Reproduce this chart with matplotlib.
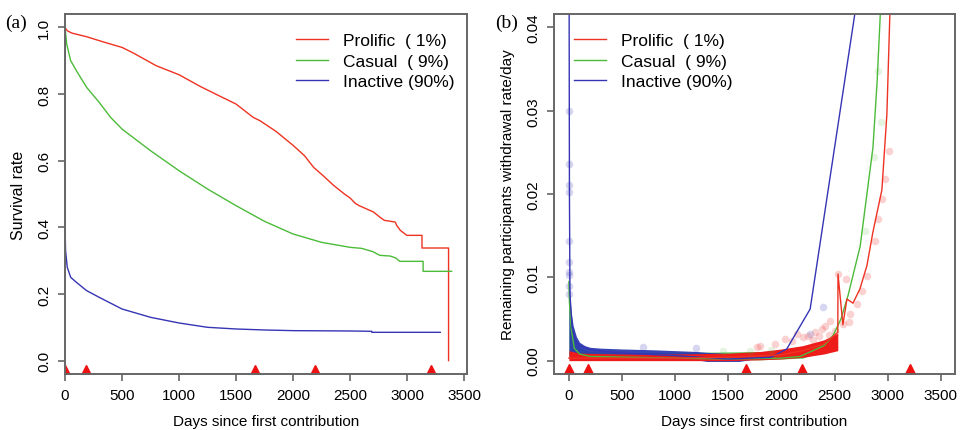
import matplotlib.pyplot as plt
import numpy as np

plt.rcParams['font.family'] = ['Liberation Sans', 'DejaVu Sans']

RED = '#ee3322'
GREEN = '#4cbb3a'
BLUE = '#3535b5'
FRAME = '#666666'

labels = ['Prolific  ( 1%)', 'Casual  ( 9%)', 'Inactive (90%)']
marker_days = [0, 180, 1670, 2190, 3210]

# (a) survival curves
red_days = [0, 20, 60, 190, 350, 500, 600, 800, 1000, 1185, 1350, 1500, 1650, 1710,
            1850, 2000, 2100, 2180, 2270, 2355, 2450, 2500, 2545, 2580, 2646, 2705,
            2763, 2800, 2895, 2910, 2940, 2997, 3130, 3130, 3363, 3363]
red_surv = [1.0, 0.99, 0.983, 0.972, 0.955, 0.94, 0.923, 0.885, 0.858, 0.823, 0.795,
            0.77, 0.73, 0.72, 0.688, 0.646, 0.615, 0.58, 0.553, 0.526, 0.5, 0.488,
            0.472, 0.465, 0.455, 0.446, 0.43, 0.421, 0.416, 0.405, 0.391, 0.376,
            0.376, 0.338, 0.338, 0.0]
green_days = [0, 15, 50, 100, 190, 300, 400, 500, 750, 1000, 1250, 1500, 1750, 2000,
              2250, 2500, 2600, 2700, 2760, 2850, 2900, 2935, 3140, 3140, 3390]
green_surv = [1.0, 0.95, 0.9, 0.87, 0.82, 0.775, 0.73, 0.695, 0.63, 0.57, 0.515,
              0.465, 0.418, 0.38, 0.355, 0.34, 0.337, 0.327, 0.316, 0.314, 0.308,
              0.298, 0.298, 0.268, 0.268]
blue_days = [0, 1, 5, 20, 50, 100, 190, 300, 500, 750, 1000, 1250, 1500, 1750, 2000,
             2500, 2690, 2690, 3290]
blue_surv = [1.0, 0.40, 0.33, 0.28, 0.25, 0.235, 0.21, 0.19, 0.155, 0.13, 0.113,
             0.10, 0.095, 0.092, 0.09, 0.089, 0.088, 0.085, 0.085]

# (b) withdrawal rate lines
red_rate_days = [0, 500, 1000, 1500, 2000, 2200, 2400, 2530, 2532, 2578, 2616, 2673,
                 2738, 2804, 2860, 2945, 2992, 3020, 3040]
red_rate = [0.0003, 0.0003, 0.0003, 0.0004, 0.0007, 0.0012, 0.002, 0.0034, 0.0104,
            0.0043, 0.0074, 0.0069, 0.0086, 0.0114, 0.0154, 0.0205, 0.0296, 0.0416,
            0.05]
green_rate_days = [0, 5, 20, 50, 100, 200, 1000, 1500, 2000, 2175, 2400, 2485, 2560,
                   2626, 2740, 2861, 2900, 2930, 2950]
green_rate = [0.0095, 0.007, 0.004, 0.0015, 0.0008, 0.0005, 0.0003, 0.0002, 0.0003,
              0.0005, 0.0018, 0.003, 0.005, 0.0078, 0.0137, 0.0256, 0.0335, 0.0416,
              0.047]
blue_rate_days = [0, 5, 10, 30, 60, 100, 200, 500, 1000, 1500, 1900, 2050, 2270, 2456,
                  2690, 2750]
blue_rate = [0.06, 0.02, 0.008, 0.004, 0.0025, 0.0018, 0.0013, 0.0009, 0.0006, 0.0002,
             0.0004, 0.0014, 0.0062, 0.0219, 0.0416, 0.0466]

# (b) dense scatter bands (lower / upper envelopes)
green_band_days = [0, 10, 30, 60, 100, 150, 200, 600, 1200, 1800, 2200, 2400, 2500]
green_band_lo = [0.0003, 0.0003, 0.0003, 0.0002, 0.0002, 0.0002, 0.0001, 0.0001,
                 0.0001, 0.0001, 0.0003, 0.0012, 0.0022]
green_band_hi = [0.0098, 0.0065, 0.0035, 0.0022, 0.0016, 0.0013, 0.0011, 0.001,
                 0.001, 0.0011, 0.0012, 0.0022, 0.003]
blue_band_days = [0, 10, 20, 40, 70, 100, 150, 200, 300, 500, 800, 1000, 1200, 1300,
                  1450, 1600, 1700]
blue_band_lo = [0.0006, 0.0005, 0.0004, 0.0004, 0.0003, 0.0003, 0.0003, 0.0003, 0.0003,
                0.0003, 0.0002, 0.0002, 0.0001, -0.0001, -0.0001, -0.0001, 0.0001]
blue_band_hi = [0.011, 0.0075, 0.006, 0.0042, 0.0029, 0.0022, 0.0018, 0.0016, 0.0015,
                0.0014, 0.0013, 0.0012, 0.0011, 0.001, 0.0009, 0.0007, 0.0005]
red_band_days = [0, 100, 500, 1000, 1500, 1800, 2000, 2200, 2400, 2530]
red_band_lo = [0.0, 0.0, 0.0, 0.0, 0.0, 0.0001, 0.0002, 0.0004, 0.0008, 0.0012]
red_band_hi = [0.0012, 0.0009, 0.0008, 0.0008, 0.0009, 0.0011, 0.0014, 0.0018,
               0.0025, 0.0033]

# (b) scattered points outside the bands
blue_pts_days = [0, 0, 0, 0, 0, 0, 0, 0, 2, 3, 2268, 2393, 1200, 700]
blue_pts_rate = [0.030, 0.0236, 0.0211, 0.0202, 0.0144, 0.0119, 0.0107, 0.0103,
                 0.0090, 0.0080, 0.0032, 0.0064, 0.0015, 0.0016]
green_pts_days = [2785, 2873, 2933, 2908, 1450, 1700, 1900]
green_pts_rate = [0.0156, 0.0244, 0.0286, 0.0348, 0.0012, 0.0012, 0.0013]
red_pts_days = [1766, 1797, 1938, 2032, 2142, 2250, 2315, 2378, 2409, 2456, 2580,
                2644, 2707, 2754, 2606, 2531, 2801, 2879, 2910, 2942, 2973, 3011,
                2635, 2100, 2200, 2300, 2350, 2450, 2500]
red_pts_rate = [0.0016, 0.0018, 0.002, 0.0026, 0.0032, 0.0029, 0.0034, 0.0038, 0.0042,
                0.0047, 0.0044, 0.0056, 0.0068, 0.0084, 0.0098, 0.0104, 0.0102, 0.0144,
                0.017, 0.0194, 0.0218, 0.0252, 0.0046, 0.0024, 0.0028, 0.0025, 0.003,
                0.0031, 0.0036]


def style_axes(ax, yticks, yfmt):
    for s in ax.spines.values():
        s.set_color(FRAME)
        s.set_linewidth(1.4)
    ax.set_xticks(range(0, 3501, 500))
    ax.set_yticks(yticks)
    ax.set_yticklabels([yfmt.format(v) for v in yticks])
    ax.tick_params(colors=FRAME, labelcolor='black', labelsize=11, length=5,
                   width=1.2, direction='out', pad=5)
    for lab in ax.get_yticklabels():
        lab.set_rotation(90)
        lab.set_va('center')
    ax.set_xlabel('Days since first contribution', fontsize=11, labelpad=9)


def add_legend(ax, handles, x):
    ax.legend(handles, labels, loc='upper left', bbox_to_anchor=(x, 0.99),
              frameon=False, fontsize=12.5, handlelength=1.85, handletextpad=0.9,
              labelspacing=0.3)


fig = plt.figure(figsize=(9.6, 4.31), dpi=100)

# panel (a)
ax1 = fig.add_axes((0.0677, 0.130, 0.4188, 0.835))
r1, = ax1.plot(red_days, red_surv, color=RED, lw=1)
g1, = ax1.plot(green_days, green_surv, color=GREEN, lw=1)
b1, = ax1.plot(blue_days, blue_surv, color=BLUE, lw=1)
ax1.plot(marker_days, [-0.03] * len(marker_days), '^', color='#ee1111', ms=9,
         mec='#ee1111')
ax1.set_xlim(0, 3525)
ax1.set_ylim(-0.04, 1.04)
style_axes(ax1, [0, 0.2, 0.4, 0.6, 0.8, 1.0], '{:.1f}')
ax1.set_ylabel('Survival rate', fontsize=11.5, labelpad=8)
add_legend(ax1, [r1, g1, b1], 0.535)
fig.text(0.005, 0.935, '(a)', family='Liberation Serif', fontsize=14)

# panel (b)
ax2 = fig.add_axes((0.577, 0.130, 0.4177, 0.835))
ax2.fill_between(green_band_days, green_band_lo, green_band_hi, color='#3fbf3f',
                 alpha=0.85, lw=0)
ax2.fill_between(blue_band_days, blue_band_lo, blue_band_hi, color='#2a3cb0',
                 alpha=0.95, lw=0)
ax2.fill_between(red_band_days, red_band_lo, red_band_hi, color='#ee1b1b', lw=0)
ax2.scatter(green_pts_days, green_pts_rate, s=30, color='#4cbb3a', alpha=0.15, lw=0)
ax2.scatter(blue_pts_days, blue_pts_rate, s=30, color='#3535b5', alpha=0.2, lw=0)
ax2.scatter(red_pts_days, red_pts_rate, s=30, color='#ee2222', alpha=0.2, lw=0)
g2, = ax2.plot(green_rate_days, green_rate, color=GREEN, lw=1)
b2, = ax2.plot(blue_rate_days, blue_rate, color=BLUE, lw=1)
r2, = ax2.plot(red_rate_days, red_rate, color=RED, lw=1)
ax2.plot(marker_days, [-0.0011] * len(marker_days), '^', color='#ee1111', ms=9,
         mec='#ee1111')
ax2.set_xlim(-141, 3632)
ax2.set_ylim(-0.0016, 0.0416)
style_axes(ax2, [0, 0.01, 0.02, 0.03, 0.04], '{:.2f}')
ax2.set_ylabel('Remaining participants withdrawal rate/day', fontsize=11, labelpad=8)
add_legend(ax2, [r2, g2, b2], 0.01)
fig.text(0.516, 0.935, '(b)', family='Liberation Serif', fontsize=14)

fig.savefig('out.png', dpi=100)
